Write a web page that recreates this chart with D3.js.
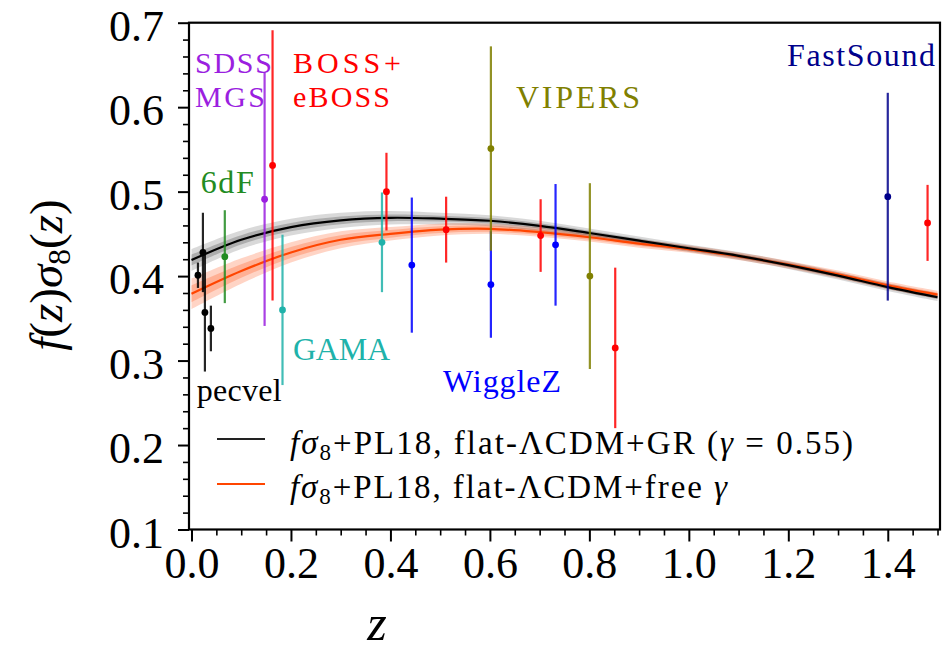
<!DOCTYPE html>
<html><head><meta charset="utf-8">
<script src="https://cdn.jsdelivr.net/npm/d3@7"></script>
<style>
body{margin:0;background:#fff}
svg{display:block}
text{font-family:"Liberation Serif","DejaVu Serif",serif}
</style>
</head><body>
<svg id="c" width="944" height="666" font-family="Liberation Serif, DejaVu Serif, serif"></svg>
<script>
// ---------- data ----------
const zGrid      = [0.0,0.1,0.2,0.3,0.4,0.5,0.6,0.7,0.8,0.9,1.0,1.1,1.2,1.3,1.4,1.5];
const fsGR       = [0.419,0.443,0.458,0.466,0.469,0.468,0.4655,0.4595,0.451,0.442,0.433,0.424,0.413,0.4005,0.387,0.375];
const fsGRerr1   = [0.0065,0.0055,0.005,0.0045,0.004,0.0035,0.0033,0.003,0.0028,0.0025,0.0023,0.0022,0.0022,0.0022,0.0022,0.0022];
const fsGRerr2   = [0.013,0.011,0.010,0.009,0.008,0.007,0.0065,0.006,0.0055,0.005,0.0045,0.0045,0.0045,0.0045,0.0045,0.0045];
const fsFree     = [0.379,0.406,0.428,0.443,0.450,0.455,0.456,0.452,0.446,0.4385,0.432,0.4235,0.4135,0.402,0.389,0.378];
const fsFreeErr1 = [0.010,0.008,0.0065,0.0055,0.0045,0.004,0.0035,0.0032,0.003,0.0028,0.0026,0.0026,0.0026,0.0026,0.0026,0.0026];
const fsFreeErr2 = [0.018,0.015,0.012,0.010,0.008,0.007,0.006,0.0055,0.005,0.0048,0.0045,0.0045,0.0045,0.0045,0.0045,0.0045];

const pecvelZ = [0.013,0.023,0.027,0.039];
const pecvelF = [0.401,0.428,0.357,0.338];
const pecvelE = [0.015,0.047,0.070,0.027];
const sixdfZ = [0.067];
const sixdfF = [0.423];
const sixdfE = [0.055];
const sdssZ = [0.147];
const sdssF = [0.491];
const sdssE = [0.150];
const bossZ = [0.163,0.392,0.512,0.702,0.852,1.480];
const bossF = [0.531,0.500,0.455,0.448,0.315,0.463];
const bossE = [0.160,0.046,0.039,0.043,0.095,0.045];
const gamaZ = [0.183,0.383];
const gamaF = [0.360,0.440];
const gamaE = [0.089,0.059];
const wigglezZ = [0.443,0.602,0.732];
const wigglezF = [0.413,0.390,0.437];
const wigglezE = [0.080,0.063,0.072];
const vipersZ = [0.602,0.801];
const vipersF = [0.551,0.400];
const vipersE = [0.121,0.110];
const fastsoundZ = [1.400];
const fastsoundF = [0.494];
const fastsoundE = [0.123];

const yTicks = [0.1,0.2,0.3,0.4,0.5,0.6,0.7];
const xTicks = [0.0,0.2,0.4,0.6,0.8,1.0,1.2,1.4];

// ---------- layout ----------
const FONT = '"Liberation Serif","DejaVu Serif",serif';
const svg = d3.select("#c");
const L = 189, R = 940, T = 22.7, B = 529.5;
const x = d3.scaleLinear().domain([-0.005,1.505]).range([L,R]);
const y = d3.scaleLinear().domain([0.1,0.7]).range([B,T]);

const surveys = [
  {z:pecvelZ, f:pecvelF, e:pecvelE, c:"#000000"},
  {z:sixdfZ, f:sixdfF, e:sixdfE, c:"#228b22"},
  {z:sdssZ, f:sdssF, e:sdssE, c:"#9b1fe0"},
  {z:gamaZ, f:gamaF, e:gamaE, c:"#20b2aa"},
  {z:bossZ, f:bossF, e:bossE, c:"#ff0000"},
  {z:wigglezZ, f:wigglezF, e:wigglezE, c:"#0000ff"},
  {z:vipersZ, f:vipersF, e:vipersE, c:"#808000"},
  {z:fastsoundZ, f:fastsoundF, e:fastsoundE, c:"#00008b"}
];

svg.append("clipPath").attr("id","pc").append("rect")
  .attr("x",L).attr("y",T).attr("width",R-L).attr("height",B-T);
const plot = svg.append("g").attr("clip-path","url(#pc)");

function band(mid, err){
  return d3.area().curve(d3.curveCatmullRom)
    .x((d,i)=>x(zGrid[i]))
    .y0((d,i)=>y(mid[i]-err[i]))
    .y1((d,i)=>y(mid[i]+err[i]))(zGrid);
}
const line = (mid)=> d3.line().curve(d3.curveCatmullRom)
  .x((d,i)=>x(zGrid[i])).y((d,i)=>y(mid[i]))(zGrid);

// bands
plot.append("path").attr("d",band(fsFree,fsFreeErr2)).attr("fill","#ff7a4a").attr("opacity",0.32);
plot.append("path").attr("d",band(fsFree,fsFreeErr1)).attr("fill","#ff7a4a").attr("opacity",0.4);
plot.append("path").attr("d",band(fsGR,fsGRerr2)).attr("fill","#000").attr("opacity",0.15);
plot.append("path").attr("d",band(fsGR,fsGRerr1)).attr("fill","#000").attr("opacity",0.2);
// curves
plot.append("path").attr("d",line(fsFree)).attr("fill","none").attr("stroke","#ff4500").attr("stroke-width",2.2);
plot.append("path").attr("d",line(fsGR)).attr("fill","none").attr("stroke","#000").attr("stroke-width",2.2);

// data points
surveys.forEach(s=>{
  const g = plot.append("g");
  s.z.forEach((zv,i)=>{
    g.append("line").attr("x1",x(zv)).attr("x2",x(zv))
      .attr("y1",y(s.f[i]-s.e[i])).attr("y2",y(s.f[i]+s.e[i]))
      .attr("stroke",s.c).attr("stroke-width",2.2).attr("opacity",0.85);
    g.append("circle").attr("cx",x(zv)).attr("cy",y(s.f[i])).attr("r",3.4).attr("fill",s.c);
  });
});

// axes
const yMinor = d3.range(0.1,0.7001,0.02).map(v=>+v.toFixed(2)).filter(v=>!yTicks.some(t=>Math.abs(t-v)<1e-6));
const xMinor = d3.range(0,1.5001,0.05).map(v=>+v.toFixed(2)).filter(v=>!xTicks.some(t=>Math.abs(t-v)<1e-6));

const ax = svg.append("g").attr("transform",`translate(${L},0)`)
  .call(d3.axisLeft(y).tickValues(yTicks).tickSize(11).tickPadding(14).tickFormat(d3.format(".1f")));
ax.attr("font-family",FONT);
ax.select(".domain").remove();
ax.selectAll("line").attr("stroke","#000").attr("stroke-width",2);
ax.selectAll("text").attr("font-size",44).attr("dy","0.4em").attr("fill","#000").attr("font-family",FONT);
const axm = svg.append("g").attr("transform",`translate(${L},0)`)
  .call(d3.axisLeft(y).tickValues(yMinor).tickSize(6).tickFormat(""));
axm.select(".domain").remove();
axm.selectAll("line").attr("stroke","#000").attr("stroke-width",1.6);

const bx = svg.append("g").attr("transform",`translate(0,${B})`)
  .call(d3.axisBottom(x).tickValues(xTicks).tickSize(12).tickPadding(5).tickFormat(d3.format(".1f")));
bx.attr("font-family",FONT);
bx.select(".domain").remove();
bx.selectAll("line").attr("stroke","#000").attr("stroke-width",2);
bx.selectAll("text").attr("font-size",44).attr("fill","#000").attr("font-family",FONT);
const bxm = svg.append("g").attr("transform",`translate(0,${B})`)
  .call(d3.axisBottom(x).tickValues(xMinor).tickSize(6).tickFormat(""));
bxm.select(".domain").remove();
bxm.selectAll("line").attr("stroke","#000").attr("stroke-width",1.6);

// frame
svg.append("rect").attr("x",L).attr("y",T).attr("width",R-L).attr("height",B-T)
  .attr("fill","none").attr("stroke","#000").attr("stroke-width",2.2);

// survey labels: text, left x, baseline y, colour, size, width
const labels = [
  ["SDSS",195,73,"#9b1fe0",30,77],["MGS",195,107,"#9b1fe0",30,70],
  ["BOSS+",293,73,"#ff0000",30,108],["eBOSS",293,107,"#ff0000",30,97],
  ["6dF",200.7,192.7,"#228b22",32,53],
  ["GAMA",293,360,"#20b2aa",32,97],
  ["pecvel",196.7,401,"#000",32,85],
  ["WiggleZ",443,392,"#0000ff",32,118],
  ["VIPERS",516,108,"#808000",32,124],
  ["FastSound",787,66,"#00008b",32,148]
];
labels.forEach(l=>{
  svg.append("text").attr("x",l[1]).attr("y",l[2]).attr("fill",l[3])
    .attr("font-family",FONT).attr("font-size",l[4])
    .attr("textLength",l[5]).attr("lengthAdjust","spacing").text(l[0]);
});

// legend
function legendText(t, yy, len, tail){
  const tx = svg.append("text").attr("x",290).attr("y",yy).attr("font-size",33)
    .attr("font-family",FONT).attr("fill","#000")
    .attr("textLength",len).attr("lengthAdjust","spacing");
  tx.append("tspan").attr("font-style","italic").text("fσ");
  tx.append("tspan").attr("font-size",23).attr("dy",6).text("8");
  tx.append("tspan").attr("dy",-6).text("+PL18, flat-ΛCDM+"+t);
  tail(tx);
}
svg.append("line").attr("x1",217).attr("x2",265).attr("y1",439).attr("y2",439).attr("stroke","#222").attr("stroke-width",2);
svg.append("line").attr("x1",217).attr("x2",265).attr("y1",484).attr("y2",484).attr("stroke","#ff4500").attr("stroke-width",2);
legendText("GR (",454,563,tx=>{
  tx.append("tspan").attr("font-style","italic").text("γ");
  tx.append("tspan").text(" = 0.55)");
});
legendText("free ",498,437,tx=>{
  tx.append("tspan").attr("font-style","italic").text("γ");
});

// axis labels
svg.append("text").attr("x",377).attr("y",640).attr("text-anchor","middle")
  .attr("font-family",FONT).attr("font-size",50).attr("font-style","italic").text("z");
const yl = svg.append("text").attr("transform","translate(62,275) rotate(-90)")
  .attr("text-anchor","middle").attr("font-family",FONT).attr("font-size",47);
yl.append("tspan").attr("font-style","italic").text("f");
yl.append("tspan").text("(");
yl.append("tspan").attr("font-style","italic").text("z");
yl.append("tspan").text(")");
yl.append("tspan").attr("font-style","italic").text("σ");
yl.append("tspan").attr("font-size",32).attr("dy",8).text("8");
yl.append("tspan").attr("dy",-8).text("(");
yl.append("tspan").attr("font-style","italic").text("z");
yl.append("tspan").text(")");
</script>
</body></html>
